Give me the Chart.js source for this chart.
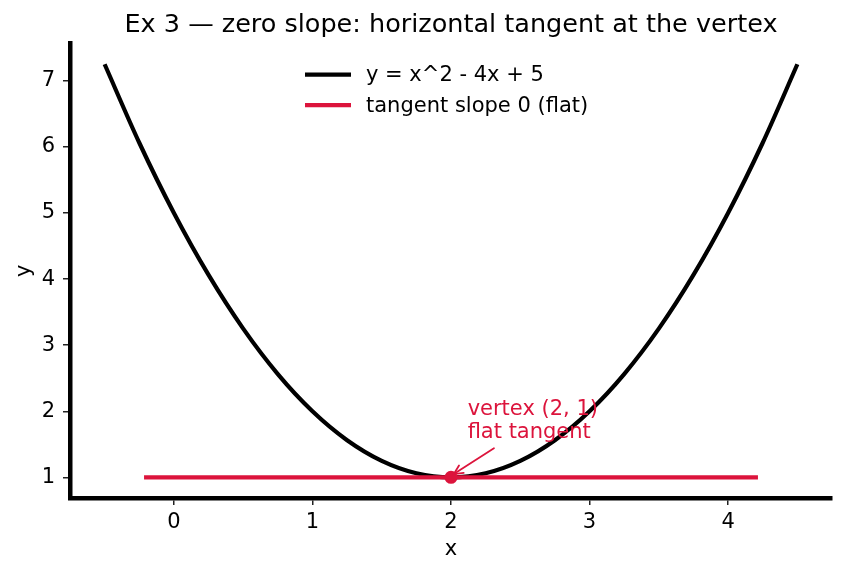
<!DOCTYPE html>
<html><head><meta charset="utf-8">
<script src="https://cdn.jsdelivr.net/npm/chart.js@4/dist/chart.umd.min.js"></script>
<style>html,body{margin:0;padding:0;background:#fff}#wrap{width:842px;height:573px}</style>
</head><body><div id="wrap"><canvas id="c" width="842" height="573"></canvas></div>
<script>
const titleText = 'Ex 3 — zero slope: horizontal tangent at the vertex';
const xLabel = 'x';
const yLabel = 'y';
const seriesLabels = ['y = x^2 - 4x + 5', 'tangent slope 0 (flat)'];
const curveX = [-0.5,-0.25,0,0.25,0.5,0.75,1,1.25,1.5,1.75,2,2.25,2.5,2.75,3,3.25,3.5,3.75,4,4.25,4.5];
const curveY = [7.25,6.0625,5,4.0625,3.25,2.5625,2,1.5625,1.25,1.0625,1,1.0625,1.25,1.5625,2,2.5625,3.25,4.0625,5,6.0625,7.25];
const tangentX = [-0.2, 4.2];
const tangentY = [1, 1];
const vertexX = [2];
const vertexY = [1];
const xTicks = [0, 1, 2, 3, 4];
const yTicks = [1, 2, 3, 4, 5, 6, 7];
const annotationLines = ['vertex (2, 1)', 'flat tangent'];
const annotationAt = [2.12, 1.6];
const arrowFrom = [2.31, 1.44];
const arrowTo = [2.02, 1.05];

const RED = '#DC143C';
const FONT = 'DejaVu Sans';
const toPts = (xs, ys) => xs.map((x, i) => ({x, y: ys[i]}));

const legendPlugin = {
  id: 'insideLegend',
  afterDraw(chart) {
    const ctx = chart.ctx, a = chart.chartArea;
    const colors = ['#000', RED];
    ctx.save();
    ctx.font = '21px "' + FONT + '"';
    ctx.textBaseline = 'middle';
    ctx.fillStyle = '#000';
    seriesLabels.forEach((lab, i) => {
      const y = a.top + 31 + i * 30.5;
      const x0 = a.left + 235;
      ctx.strokeStyle = colors[i];
      ctx.lineWidth = 4.3;
      ctx.lineCap = 'butt';
      ctx.beginPath(); ctx.moveTo(x0, y); ctx.lineTo(x0 + 46, y); ctx.stroke();
      ctx.fillText(lab, x0 + 61, y + 1);
    });
    ctx.restore();
  }
};

const annotationPlugin = {
  id: 'vertexNote',
  afterDatasetsDraw(chart) {
    const ctx = chart.ctx, xs = chart.scales.x, ys = chart.scales.y;
    ctx.save();
    ctx.fillStyle = RED;
    ctx.font = '21px "' + FONT + '"';
    ctx.textBaseline = 'alphabetic';
    const tx = xs.getPixelForValue(annotationAt[0]);
    const ty = ys.getPixelForValue(annotationAt[1]);
    const n = annotationLines.length;
    annotationLines.forEach((t, i) => ctx.fillText(t, tx, ty - (n - 1 - i) * 22.5));
    const x1 = xs.getPixelForValue(arrowFrom[0]), y1 = ys.getPixelForValue(arrowFrom[1]);
    const x2 = xs.getPixelForValue(arrowTo[0]), y2 = ys.getPixelForValue(arrowTo[1]);
    ctx.strokeStyle = RED; ctx.lineWidth = 1.8; ctx.lineCap = 'round';
    ctx.beginPath(); ctx.moveTo(x1, y1); ctx.lineTo(x2, y2); ctx.stroke();
    const ang = Math.atan2(y2 - y1, x2 - x1), L = 10, W = 0.45;
    ctx.beginPath();
    ctx.moveTo(x2 - L * Math.cos(ang - W), y2 - L * Math.sin(ang - W));
    ctx.lineTo(x2, y2);
    ctx.lineTo(x2 - L * Math.cos(ang + W), y2 - L * Math.sin(ang + W));
    ctx.stroke();
    ctx.restore();
  }
};

const axisCommon = (ticksArr, pad) => ({
  type: 'linear',
  afterBuildTicks: s => { s.ticks = ticksArr.map(v => ({value: v})); },
  grid: {drawOnChartArea: false, drawTicks: true, tickLength: 7, color: '#222', lineWidth: 1.5},
  border: {display: true, color: '#000', width: 4.5},
  ticks: {color: '#000', font: {family: FONT, size: 21}, padding: pad},
});

new Chart(document.getElementById('c'), {
  type: 'scatter',
  data: {
    datasets: [
      {label: 'vertex', data: toPts(vertexX, vertexY), pointRadius: 6.5, pointHoverRadius: 6.5,
       backgroundColor: RED, borderColor: RED, borderWidth: 0, showLine: false, order: 1},
      {label: seriesLabels[1], data: toPts(tangentX, tangentY), showLine: true, borderColor: RED,
       borderWidth: 4.3, pointRadius: 0, borderCapStyle: 'square', order: 2},
      {label: seriesLabels[0], data: toPts(curveX, curveY), showLine: true, borderColor: '#000',
       borderWidth: 4.2, pointRadius: 0, cubicInterpolationMode: 'monotone', order: 3}
    ]
  },
  options: {
    responsive: false,
    animation: false,
    devicePixelRatio: 1,
    layout: {padding: {left: 0, right: 10, top: 0, bottom: 0}},
    plugins: {
      legend: {display: false},
      tooltip: {enabled: false},
      title: {display: true, fullSize: false, text: titleText, color: '#000',
              font: {family: FONT, size: 25.5, weight: 'normal', lineHeight: 1.2},
              padding: {top: 10, bottom: 3}}
    },
    scales: {
      x: Object.assign(axisCommon(xTicks, 5), {
        min: -0.75, max: 4.75,
        afterFit: s => { s.height = 75; },
        title: {display: true, text: xLabel, color: '#000', font: {family: FONT, size: 21}, padding: {top: 0, bottom: 11}}
      }),
      y: Object.assign(axisCommon(yTicks, 8), {
        min: 0.6875, max: 7.5625,
        afterFit: s => { s.width = 70; },
        title: {display: true, text: yLabel, color: '#000', font: {family: FONT, size: 21}, padding: {top: 12, bottom: 0}}
      })
    }
  },
  plugins: [legendPlugin, annotationPlugin]
});
</script></body></html>
